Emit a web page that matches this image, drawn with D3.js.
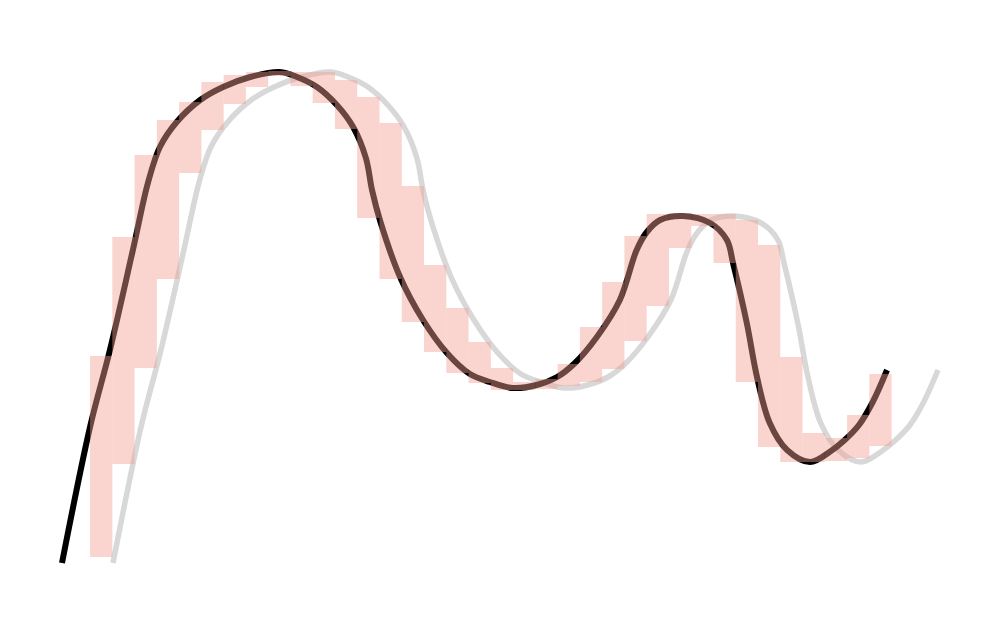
<!DOCTYPE html>
<html>
<head>
<meta charset="utf-8">
<script src="https://cdn.jsdelivr.net/npm/d3@7"></script>
<style>
  body { margin: 0; background: #fff; }
  svg { display: block; }
</style>
</head>
<body>
<div id="container"></div>
<script>
// Series (t = time, v = value)
const lineT = [0, 0.55, 0.94, 1.39, 1.69, 1.92, 2.25, 2.71, 3.16, 3.69, 4.27, 4.61, 5.0, 5.39, 5.71, 5.96, 6.08, 6.24, 6.63, 7.08, 7.55, 8.0, 8.39, 8.84, 9.31, 9.71, 10.06, 10.49, 10.94, 11.27, 11.47, 11.73, 12.18, 12.71, 13.04, 13.16, 13.43, 13.63, 13.88, 14.22, 14.67, 15.08, 15.35, 15.63, 15.9, 16.18];
const lineV = [0.6, 27.8, 43.2, 63.2, 76.8, 83.8, 88.8, 93.2, 95.8, 97.8, 98.8, 97.8, 95.8, 92.2, 87.8, 81.6, 75.2, 69, 57.8, 49.2, 42.6, 38.4, 36.8, 35.6, 36.2, 37.8, 40.6, 45.8, 53.2, 63.2, 66.8, 69.2, 70, 68.6, 65.2, 60.6, 48.6, 37.8, 28.6, 23.2, 20.8, 23, 25.2, 28.2, 32.8, 39.2];

// lag of the shifted (gray) copy
const lag = 1;

// window extents per bin
const bins = d3.range(36);
const binLow = [1.8, 20.4, 39.6, 57.4, 78.6, 87.2, 92.4, 95.8, 98, 96, 92.6, 87.4, 69.6, 57.4, 48.8, 42.8, 38.6, 36.6, 35.2, 35.2, 35.4, 36, 36.8, 39.4, 45, 52, 63.6, 68, 60.6, 36.8, 23.8, 20.8, 20.8, 21, 21.6, 24];
const binHigh = [42, 65.8, 82.2, 89.2, 92.8, 96.8, 98.2, 98.8, 99, 98.8, 98.8, 97.2, 93.8, 88.6, 76, 60.2, 51.6, 44.8, 39.6, 36.8, 37.4, 40.4, 47.8, 56.8, 66, 70.4, 70.6, 70.4, 70.4, 69.2, 64.2, 41.8, 26.6, 25.6, 30.2, 38.4];
const binStart = 0.55, binEnd = 16.27;

const width = 996;
const height = 626;

const data = lineT.map((t, i) => ({ t: t, v: lineV[i] }));

const svg = d3.select('#container').append('svg')
    .attr('width', width)
    .attr('height', height);

const xScale = d3.scaleLinear()
    .domain([0, 17.18])
    .range([62, 938]);

const yScale = d3.scaleLinear()
    .domain([0, 100])
    .range([566, 66]);

const bandScale = d3.scaleBand()
    .domain(bins)
    .range([xScale(binStart), xScale(binEnd)])
    .padding(0);

// shifted copy
const lagLine = d3.line()
    .x(d => xScale(d.t + lag))
    .y(d => yScale(d.v))
    .curve(d3.curveCatmullRom);

svg.append('path')
    .datum(data)
    .attr('d', lagLine)
    .attr('fill', 'none')
    .attr('stroke', '#d8d8d8')
    .attr('stroke-width', 5.5);

// original
const line = d3.line()
    .x(d => xScale(d.t))
    .y(d => yScale(d.v))
    .curve(d3.curveCatmullRom);

svg.append('path')
    .datum(data)
    .attr('d', line)
    .attr('fill', 'none')
    .attr('stroke', '#000')
    .attr('stroke-width', 6);

// extents
svg.append('g')
    .selectAll('rect')
    .data(bins)
    .enter()
    .append('rect')
    .attr('x', d => bandScale(d))
    .attr('width', bandScale.bandwidth())
    .attr('y', d => yScale(binHigh[d]))
    .attr('height', d => yScale(binLow[d]) - yScale(binHigh[d]))
    .attr('fill', 'rgb(243,157,145)')
    .attr('fill-opacity', 0.44);
</script>
</body>
</html>
